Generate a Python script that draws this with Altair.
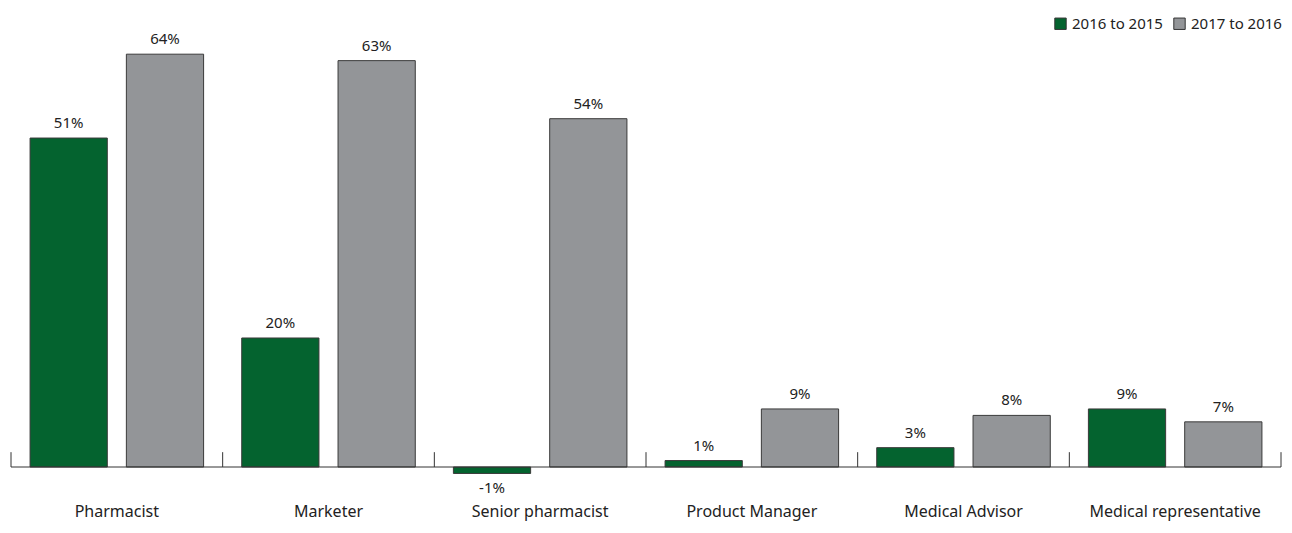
import altair as alt
import pandas as pd

categories = ["Pharmacist", "Marketer", "Senior pharmacist", "Product Manager",
              "Medical Advisor", "Medical representative"]
series_names = ["2016 to 2015", "2017 to 2016"]
values_2016 = [51, 20, -1, 1, 3, 9]
values_2017 = [64, 63, 54, 9, 8, 7]
colors = ["#04632f", "#939598"]

rows = []
for c, v1, v2 in zip(categories, values_2016, values_2017):
    rows.append({"cat": c, "series": series_names[0], "value": v1})
    rows.append({"cat": c, "series": series_names[1], "value": v2})
df = pd.DataFrame(rows)
df["label"] = df["value"].astype(str) + "%"

FONT = "Noto Sans"
y_scale = alt.Scale(domain=[-4.34, 71.16], nice=False, zero=False)
x_enc = alt.X("cat:N", sort=categories,
              scale=alt.Scale(paddingInner=0, paddingOuter=0),
              axis=alt.Axis(title=None, ticks=False, domain=False, labelPadding=8,
                            labelFontSize=16, labelFont=FONT, labelColor="#222222",
                            labelAngle=0))
xoff = alt.XOffset("series:N", sort=series_names,
                   scale=alt.Scale(paddingInner=0.198, paddingOuter=0.198))

base = alt.Chart(df)

bars = base.mark_bar(stroke="#3a3a3a", strokeWidth=1).encode(
    x=x_enc,
    xOffset=xoff,
    y=alt.Y("value:Q", scale=y_scale, axis=None),
    y2=alt.datum(0),
    color=alt.Color("series:N", sort=series_names,
                    scale=alt.Scale(domain=series_names, range=colors),
                    legend=alt.Legend(title=None, orient="none", direction="horizontal",
                                      legendX=1042, legendY=8,
                                      symbolType="square", symbolSize=130,
                                      symbolStrokeColor="#333333", symbolStrokeWidth=1,
                                      labelFontSize=15, labelFont=FONT,
                                      labelColor="#222222", columnPadding=8,
                                      symbolOffset=0, labelOffset=4)),
)

pos_text = base.transform_filter("datum.value >= 0").mark_text(
    baseline="bottom", dy=-7, fontSize=15, font=FONT, color="#222222"
).encode(x=alt.X("cat:N", sort=categories), xOffset=xoff,
         y=alt.Y("value:Q", scale=y_scale), text="label:N")

neg_text = base.transform_filter("datum.value < 0").mark_text(
    baseline="top", dy=8, fontSize=15, font=FONT, color="#222222"
).encode(x=alt.X("cat:N", sort=categories), xOffset=xoff,
         y=alt.Y("value:Q", scale=y_scale), text="label:N")

baseline = alt.Chart(pd.DataFrame({"z": [0]})).mark_rule(color="#333333", strokeWidth=1).encode(
    y=alt.Y("z:Q", scale=y_scale)
)

tick_df = pd.DataFrame({"cat": categories})
ticks_start = alt.Chart(tick_df).mark_rule(color="#333333", strokeWidth=1).encode(
    x=alt.X("cat:N", sort=categories, bandPosition=0),
    y=alt.datum(0), y2=alt.datum(2.3),
)
ticks_end = alt.Chart(tick_df.tail(1)).mark_rule(color="#333333", strokeWidth=1).encode(
    x=alt.X("cat:N", sort=categories, bandPosition=1),
    y=alt.datum(0), y2=alt.datum(2.3),
)

chart = alt.layer(bars, baseline, ticks_start, ticks_end, pos_text, neg_text).properties(
    width=1270, height=487, background="white",
    padding={"left": 2, "top": 0, "right": 0, "bottom": 3},
).configure_view(strokeWidth=0)

chart.save("out.html", embed_options={"renderer": "svg", "actions": False})
